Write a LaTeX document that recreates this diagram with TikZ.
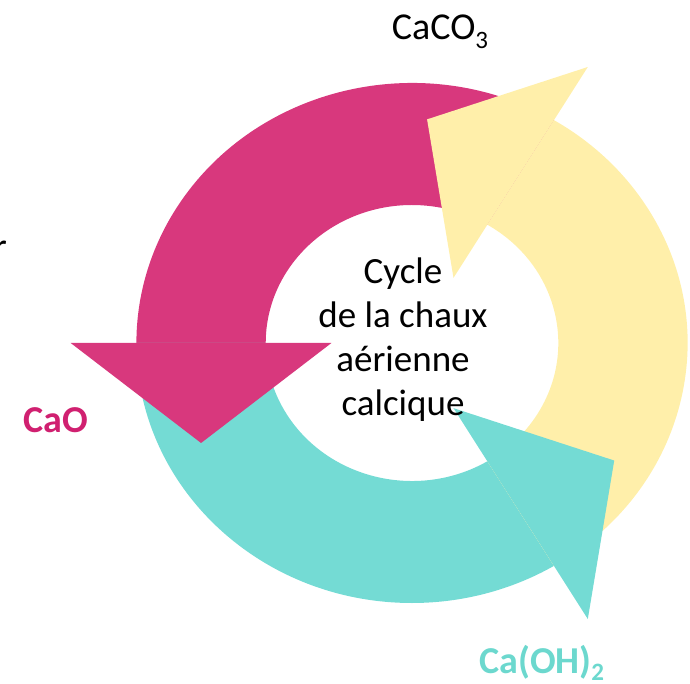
\documentclass[tikz,border=0pt]{standalone}
\usepackage{fontspec}
\setmainfont{Carlito}
\usepackage{tikz}
\definecolor{chauxrose}{RGB}{216,56,125}
\definecolor{chauxteal}{RGB}{116,219,212}
\definecolor{chauxjaune}{RGB}{255,239,170}
\definecolor{caotext}{RGB}{208,32,112}
\definecolor{caohtext}{RGB}{108,216,206}
\newcommand{\outR}{260} % outer radius of the ring
\newcommand{\inR}{138} % inner radius of the ring
\newcommand{\midR}{199} % where the heads sit
\newcommand{\headW}{123} % half the width of a head
\newcommand{\headL}{100} % length of a head
\tikzset{
	x=1pt, y=1pt, % one unit is one pixel of the page
	rosearrow/.style={fill=chauxrose}, %the arrow that ends at CaO
	tealarrow/.style={fill=chauxteal}, %the arrow that ends at Ca(OH)2
	jaunearrow/.style={fill=chauxjaune}, %the arrow that ends at CaCO3
	formula/.style={inner sep=0pt, anchor=base, font=\fontsize{38}{44}\selectfont},
}

\begin{document}
\begin{tikzpicture}
	\useasboundingbox (0,0) rectangle (690,683);
	\begin{scope}[shift={(412,340)}, xscale=1.06]
		% bodies first, every head covers the tail of the next arrow
		\fill[rosearrow] (59:\outR) arc[start angle=59, end angle=180, radius=\outR]
			-- (180:\inR) arc[start angle=180, end angle=59, radius=\inR] -- cycle;
		\fill[tealarrow] (180:\outR) arc[start angle=180, end angle=301, radius=\outR]
			-- (301:\inR) arc[start angle=301, end angle=180, radius=\inR] -- cycle;
		\fill[jaunearrow] (-59:\outR) arc[start angle=-59, end angle=59, radius=\outR]
			-- (59:\inR) arc[start angle=59, end angle=-59, radius=\inR] -- cycle;
		% heads
		\begin{scope}[rotate=180]
			\fill[rosearrow] (\midR-\headW,0) -- (\midR+\headW,0) -- (\midR,\headL) -- cycle;
		\end{scope}
		\begin{scope}[rotate=301]
			\fill[tealarrow] (\midR-\headW,0) -- (\midR+\headW,0) -- (\midR,\headL+3) -- cycle;
		\end{scope}
		\begin{scope}[rotate=59]
			\fill[jaunearrow] (\midR-\headW,0) -- (\midR+\headW,0) -- (\midR,\headL+3) -- cycle;
		\end{scope}
	\end{scope}
	\node[align=center, font=\fontsize{37}{44}\selectfont] (cycle) at (403,343)
		{Cycle\\de la chaux\\aérienne\\calcique};
	\node[formula] (caco) at (440,643) {CaCO\raisebox{-0.22em}{\fontsize{25}{25}\selectfont 3}};
	\node[formula, font=\fontsize{38}{44}\selectfont\bfseries, text=caotext] (cao) at (56,251) {CaO};
	\node[formula, font=\fontsize{38}{44}\selectfont\bfseries, text=caohtext] (caoh) at (542,10)
		{Ca(OH)\raisebox{-0.2em}{\fontsize{25}{25}\selectfont 2}};
	\node[formula, anchor=base east] (bord) at (7,423) {r};
\end{tikzpicture}
\end{document}
